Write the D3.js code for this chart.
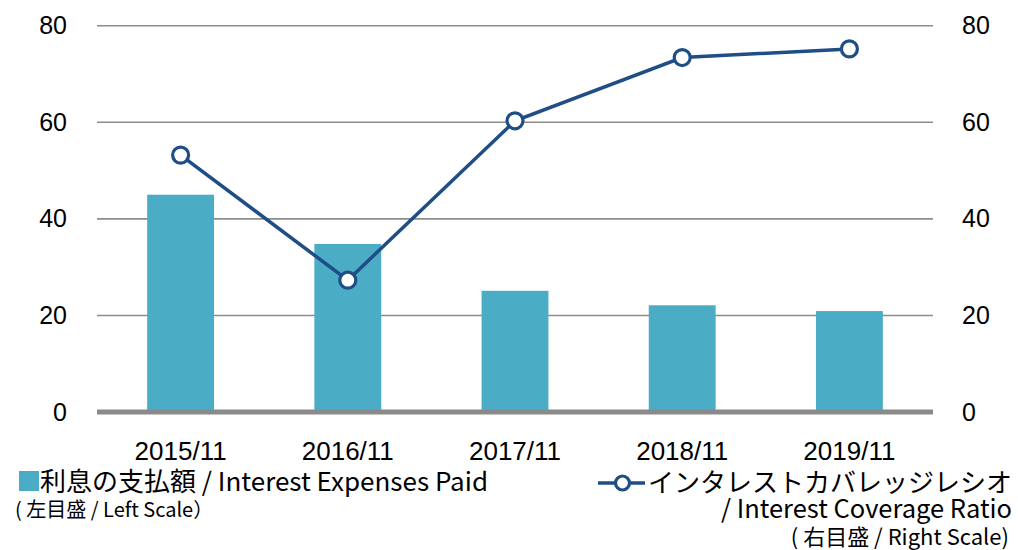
<!DOCTYPE html>
<html><head><meta charset="utf-8">
<script src="https://cdn.jsdelivr.net/npm/d3@7"></script>
<style>body{margin:0;background:#fff}svg{display:block}</style>
</head><body>
<svg id="c" width="1018" height="550"></svg>
<script>
const categories = ["2015/11","2016/11","2017/11","2018/11","2019/11"];
const interestPaid = [45, 34.8, 25.1, 22.1, 20.9];
const coverageRatio = [53.2, 27.3, 60.3, 73.4, 75.2];
const leftTicks = [0, 20, 40, 60, 80];
const rightTicks = [0, 20, 40, 60, 80];

const svg = d3.select("#c");
const x0 = 97, x1 = 933, yTop = 25.7, yBot = 412;
const x = d3.scaleBand().domain(categories).range([x0, x1]).paddingInner(0.6).paddingOuter(0.3);
const yL = d3.scaleLinear().domain([0, 80]).range([yBot, yTop]);
const yR = d3.scaleLinear().domain([0, 80]).range([yBot, yTop]);
const numFont = "'Liberation Sans', Arial, sans-serif";
const jpFont = "'Noto Sans CJK JP', 'Noto Sans', sans-serif";

// gridlines
svg.append("g").selectAll("line").data(leftTicks.filter(d => d > 0)).join("line")
  .attr("x1", x0).attr("x2", x1)
  .attr("y1", d => yL(d)).attr("y2", d => yL(d))
  .attr("stroke", "#8c8c8c").attr("stroke-width", 1.6);

// bars
svg.append("g").selectAll("rect").data(interestPaid).join("rect")
  .attr("x", (d, i) => x(categories[i]))
  .attr("width", x.bandwidth())
  .attr("y", d => yL(d))
  .attr("height", d => yL(0) - yL(d))
  .attr("fill", "#4bacc6");

// baseline
svg.append("line").attr("x1", x0).attr("x2", x1).attr("y1", yL(0)).attr("y2", yL(0))
  .attr("stroke", "#8a8a8a").attr("stroke-width", 5);

// left axis
const axL = svg.append("g").attr("transform", `translate(${x0},0)`)
  .call(d3.axisLeft(yL).tickValues(leftTicks).tickSize(0).tickPadding(30));
axL.select(".domain").remove();
axL.selectAll("text").attr("font-family", numFont).attr("font-size", 25).attr("fill", "#000");

// right axis
const axR = svg.append("g").attr("transform", `translate(${x1},0)`)
  .call(d3.axisRight(yR).tickValues(rightTicks).tickSize(0).tickPadding(29));
axR.select(".domain").remove();
axR.selectAll("text").attr("font-family", numFont).attr("font-size", 25).attr("fill", "#000");

// x axis
const axX = svg.append("g").attr("transform", `translate(0,${yBot})`)
  .call(d3.axisBottom(x).tickSize(0).tickPadding(30));
axX.select(".domain").remove();
axX.selectAll("text").attr("font-family", numFont).attr("font-size", 26).attr("fill", "#000");

// line
const lineColor = "#1f4e86";
const line = d3.line().x((d, i) => x(categories[i]) + x.bandwidth() / 2).y(d => yR(d));
svg.append("path").datum(coverageRatio).attr("d", line)
  .attr("fill", "none").attr("stroke", lineColor).attr("stroke-width", 3.5);
svg.append("g").selectAll("circle").data(coverageRatio).join("circle")
  .attr("cx", (d, i) => x(categories[i]) + x.bandwidth() / 2)
  .attr("cy", d => yR(d)).attr("r", 8)
  .attr("fill", "#fff").attr("stroke", lineColor).attr("stroke-width", 3.2);

// legend left
svg.append("rect").attr("x", 19).attr("y", 471).attr("width", 20).attr("height", 20).attr("fill", "#4bacc6");
svg.append("text").attr("x", 40).attr("y", 490.5).attr("font-family", jpFont).attr("font-size", 26)
  .attr("fill", "#000").text("利息の支払額 / Interest Expenses Paid");
svg.append("text").attr("x", 15).attr("y", 516.5).attr("font-family", jpFont).attr("font-size", 20)
  .attr("fill", "#000").text("( 左目盛 / Left Scale）");

// legend right
svg.append("line").attr("x1", 598).attr("x2", 645).attr("y1", 483).attr("y2", 483)
  .attr("stroke", lineColor).attr("stroke-width", 3.5);
svg.append("circle").attr("cx", 622.5).attr("cy", 483).attr("r", 7)
  .attr("fill", "#fff").attr("stroke", lineColor).attr("stroke-width", 3.2);
svg.append("text").attr("x", 648).attr("y", 492).attr("font-family", jpFont).attr("font-size", 26)
  .attr("fill", "#000").text("インタレストカバレッジレシオ");
svg.append("text").attr("x", 1012).attr("y", 518).attr("text-anchor", "end").attr("font-family", jpFont).attr("font-size", 25.5)
  .attr("fill", "#000").text("/ Interest Coverage Ratio");
svg.append("text").attr("x", 1009).attr("y", 545).attr("text-anchor", "end").attr("font-family", jpFont).attr("font-size", 22)
  .attr("fill", "#000").text("( 右目盛 / Right Scale)");
</script>
</body></html>
